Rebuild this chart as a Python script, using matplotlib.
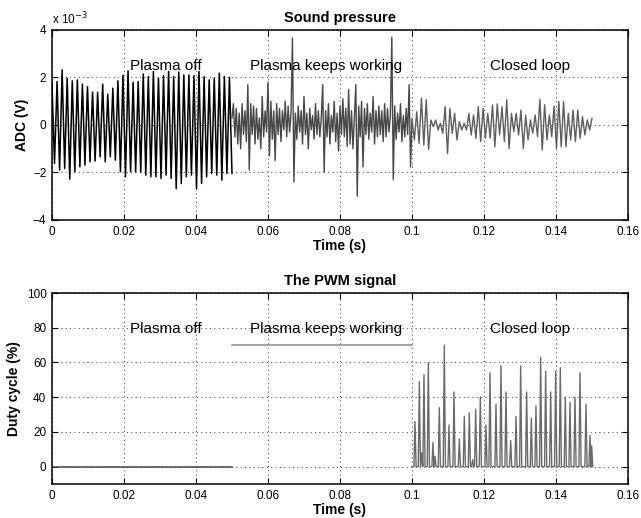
import numpy as np
import matplotlib

matplotlib.use("Agg")
import matplotlib.pyplot as plt
from matplotlib.ticker import FuncFormatter

plt.rcParams["font.family"] = ["Liberation Sans", "DejaVu Sans"]

# Sound pressure (units of 1e-3 V).
# Each list is the run of peaks / troughs of one phase, spread evenly over that phase.
press_off = [
    1.76, -1.62, 1.83, -1.9, 2.32, -1.83, 1.97, -2.28, 1.86, -1.97, 1.9, -1.76,
    1.72, -1.69, 1.62, -1.55, 1.38, -1.52, 1.38, -1.34, 1.72, -1.55, 1.3, -1.34,
    1.55, -1.48, 1.86, -1.97, 2.1, -2.18, 2.28, -1.97, 1.8, -1.97, 1.83, -2.0,
    2.15, -2.11, 2.04, -2.18, 2.25, -2.18, 1.97, -2.25, 2.08, -2.11, 2.25, -2.25,
    2.04, -2.68, 2.23, -2.46, 2.11, -2.18, 2.11, -2.11, 2.08, -2.68, 2.25, -2.46,
    2.04, -2.18, 1.9, -2.04, 1.97, -2.11, 2.18, -2.32, 2.04, -2.04, 2.0, -2.04,
]
press_keep = [
    0.3, 0.9, -0.5, 0.7, -0.8, 0.5, -1.0, 0.9, -0.4, 0.6, -0.7,
    1.7, -1.9,
    0.9, -0.4, 0.8, -0.8, 0.7, -0.6, 0.3, -1.0, 1.2, -0.5, 0.6, -0.3,
    1.8, -1.3,
    1.0, -0.6, 0.6, -1.5, 0.9, -0.4, 0.7, -0.7, 0.6, -0.2, 1.0, -0.5, 0.8, -0.3, 0.5,
    3.66, -2.4,
    0.5, -0.6, 0.8, -0.3, 0.6, -0.8, 1.2, -0.4, 0.5, -1.0, 0.7, -0.2, 0.4, -0.6,
    0.9, -0.4, 0.6, -0.5, 0.3,
    1.7, -2.0,
    0.6, -0.5, 0.9, -0.8, 0.4, -0.3, 1.0, -0.7, 0.5, -1.1, 0.8, -0.4, 1.1, -0.5, 0.7, -0.9,
    1.5,
    -0.8, 0.6, -1.0, 0.3,
    1.7, -3.0,
    0.8, -0.5, 1.0,
    -1.76,
    0.7, -0.4, 0.9, -0.6, 0.5, -0.3, 1.2, -0.8, 0.6, -0.5, 0.8, -0.4, 0.6, -0.7,
    0.9, -0.5, 0.7, -0.3, 0.4,
    3.7, -2.3,
    0.8, -0.6, 0.5, -0.3, 0.9, -0.7, 0.4, -0.5, 0.7, -0.4,
    1.7, -1.76,
    0.2,
]
press_loop = [
    0.28, -0.63, 0.56, -0.77, 1.13, -0.85, 1.06, -1.03, 0.21, -0.07, 0.21, -0.21,
    0.07, -0.35, 0.77, -1.2, 0.7, -0.35, 0.49, -0.63, 0.14, -0.21, 0.07, -0.21,
    0.49, -0.42, 0.42, -0.56, 0.77, -0.7, 0.7, -0.56, 0.49, -0.56, 0.85, -0.92,
    0.89, -0.42, 0.77, -0.7, 1.06, -0.99,
    0.49, -0.28, 0.49, -0.42, 0.63, -0.99, 0.42, -0.63, 0.21, -0.35, 0.42, -0.49,
    1.08, -1.06, 0.85, -0.63, 0.42, -0.49, 0.8, -0.99, 0.99, -0.92, 0.99, -0.92,
    0.49, -0.63, 0.63, -0.7, 0.63, -0.56, 0.35, -0.42, 0.21, -0.21, 0.28,
]
phase_edges = [0.0, 0.05, 0.1, 0.15]

# PWM duty cycle (%)
duty_off = 0.0
duty_keep = 70.0
spike_t = [
    0.10083, 0.10204, 0.10269, 0.10333, 0.10454, 0.10583, 0.10639, 0.10759,
    0.10898, 0.11028, 0.11167, 0.11315, 0.11454, 0.11593, 0.11685, 0.11769,
    0.11898, 0.12056, 0.12167, 0.12333, 0.12472, 0.12611, 0.12741, 0.12889,
    0.13019, 0.13185, 0.13315, 0.13444, 0.13574, 0.13713, 0.13852, 0.13991,
    0.14120, 0.14259, 0.14389, 0.14528, 0.14667, 0.14833, 0.14944, 0.14991,
]
spike_pct = [
    26, 49, 8, 53, 60, 14, 6, 34, 70, 24, 43, 16, 29, 31, 4, 33, 40, 24, 54, 36,
    58, 43, 15, 29, 58, 43, 28, 35, 63, 55, 43, 55, 57, 40, 37, 40, 54, 36, 18, 12,
]

phase_names = ["Plasma off", "Plasma keeps working", "Closed loop"]
phase_text_x = [0.0217, 0.055, 0.1217]


def style_axes(ax):
    ax.set_xlim(0, 0.16)
    ax.set_xticks(np.arange(0, 0.161, 0.02))
    ax.xaxis.set_major_formatter(FuncFormatter(lambda v, p: f"{v:g}"))
    ax.tick_params(direction="in", top=True, right=True, length=4, width=0.8,
                   labelsize=8.5, pad=4)
    ax.grid(True, ls=(0, (1, 3.5)), color="#333333", lw=0.7)
    for s in ax.spines.values():
        s.set_linewidth(1.1)
    ax.set_xlabel("Time (s)", fontweight="bold", fontsize=10, labelpad=1)


fig = plt.figure(figsize=(6.41, 5.18), dpi=100)
ax1 = fig.add_axes([0.0811, 0.5753, 0.8986, 0.3668])
ax2 = fig.add_axes([0.0811, 0.0656, 0.8986, 0.3687])

# --- sound pressure
colors = ["#000000", "#474747", "#5e5e5e"]
widths = [1.1, 1.0, 1.0]
for vals, t0, t1, c, w in zip([press_off, press_keep, press_loop], phase_edges[:-1],
                              phase_edges[1:], colors, widths):
    t = np.linspace(t0, t1, len(vals))
    ax1.plot(t, np.array(vals) * 1e-3, color=c, lw=w)

style_axes(ax1)
ax1.set_ylim(-4e-3, 4e-3)
ax1.set_yticks(np.arange(-4e-3, 4.1e-3, 2e-3))
ax1.yaxis.set_major_formatter(
    FuncFormatter(lambda v, p: f"{round(v * 1e3):d}".replace("-", "\u2212")))
ax1.text(0.0, 1.015, r"x 10$^{-3}$", transform=ax1.transAxes, fontsize=8.5,
         ha="left", va="bottom")
ax1.set_ylabel("ADC (V)", fontweight="bold", fontsize=10, labelpad=3)
ax1.set_title("Sound pressure", fontweight="bold", fontsize=10.5, pad=6)
for name, x in zip(phase_names, phase_text_x):
    ax1.text(x, 2.48e-3, name, fontsize=11, va="center", ha="left")

# --- PWM signal
ax2.plot(phase_edges[:2], [duty_off] * 2, color="#444444", lw=1.1)
ax2.plot(phase_edges[1:3], [duty_keep] * 2, color="#8a8a8a", lw=1.1)
hw = 0.0003
tt, yy = [phase_edges[2]], [0.0]
for t, p in zip(spike_t, spike_pct):
    tt += [t - hw, t, t + hw]
    yy += [0.0, p, 0.0]
ax2.plot(tt, yy, color="#6a6a6a", lw=1.0)

style_axes(ax2)
ax2.set_ylim(-10, 100)
ax2.set_yticks(np.arange(0, 101, 20))
ax2.set_ylabel("Duty cycle (%)", fontweight="bold", fontsize=10)
ax2.set_title("The PWM signal", fontweight="bold", fontsize=10.5, pad=6)
for name, x in zip(phase_names, phase_text_x):
    ax2.text(x, 79, name, fontsize=11, va="center", ha="left")

fig.savefig("out.png", dpi=100)
